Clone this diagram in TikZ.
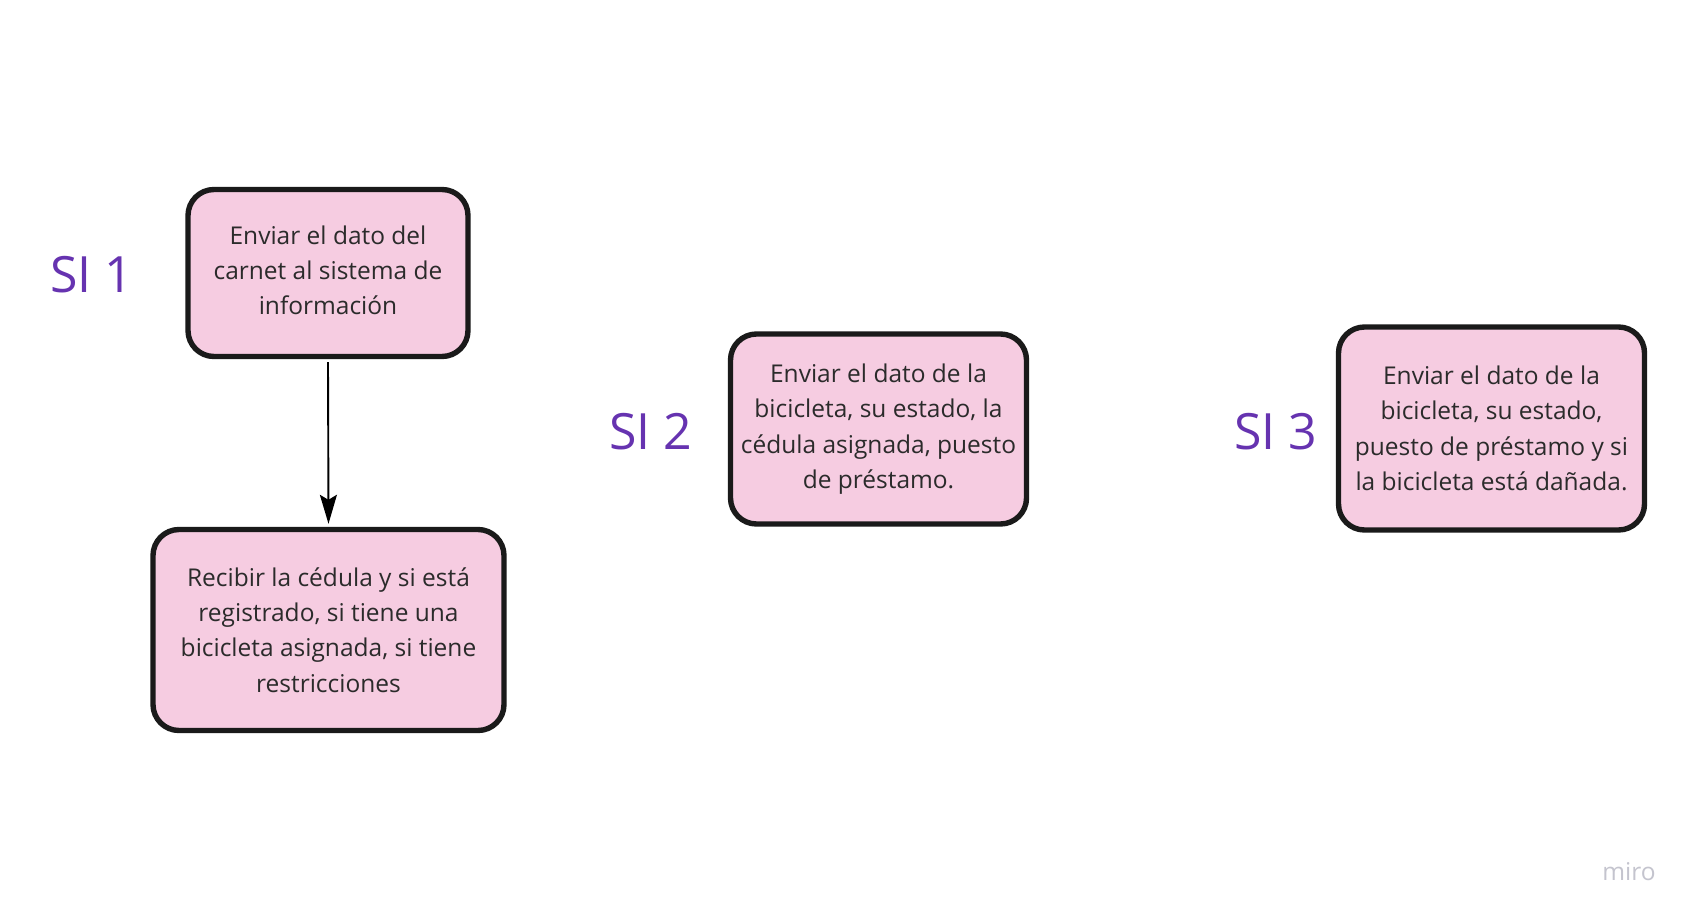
\documentclass[tikz,border=0pt]{standalone}
\usepackage{fontspec}
\setmainfont{Open Sans}
\usetikzlibrary{arrows.meta}
\definecolor{boxfill}{HTML}{F6CCE1}
\definecolor{boxline}{HTML}{1A1A1A}
\definecolor{sipurple}{HTML}{6633B0}
\definecolor{txtgray}{HTML}{2B2B2B}
\definecolor{mirogray}{HTML}{C4C4CE}
\tikzset{
  stepbox/.style={draw=boxline, fill=boxfill, line width=5.4pt, rounded corners=26pt,
    align=center, text=txtgray, inner sep=0pt,
    font=\fontsize{24.5}{35.3}\selectfont},
  silabel/.style={text=sipurple, font=\fontsize{50}{60}\selectfont, inner sep=0pt},
  conn/.style={line width=1.9pt, -{Stealth[length=29pt,width=17pt,inset=5pt]}}
}
\begin{document}
\begin{tikzpicture}[x=1pt,y=-1pt]
\useasboundingbox (0,0) rectangle (1696,921);
\fill[white] (0,0) rectangle (1696,921);
\node[stepbox, minimum width=280pt, minimum height=167pt] (b1) at (328,273)
  {Enviar el dato del\\carnet al sistema de\\información\vphantom{p}};
\node[stepbox, minimum width=351pt, minimum height=201pt] (b2) at (328.5,630)
  {Recibir la cédula y si está\\registrado, si tiene una\\bicicleta asignada, si tiene\\restricciones};
\node[stepbox, minimum width=296pt, minimum height=190pt] (b3) at (878.5,429)
  {Enviar el dato de la\\bicicleta, su estado, la\\cédula asignada, puesto\\de préstamo.};
\node[stepbox, minimum width=306pt, minimum height=203pt] (b4) at (1491.5,428.5)
  {Enviar el dato de la\\bicicleta, su estado,\\puesto de préstamo y si\\la bicicleta está dañada.};
\node[silabel] (s1) at (92,275) {SI 1};
\node[silabel] (s2) at (651,431.5) {SI 2};
\node[silabel] (s3) at (1276,431.5) {SI 3};
\node[text=mirogray, font=\fontsize{24.5}{28}\selectfont, inner sep=0pt] (miro) at (1629,872) {miro};
\draw[conn] ([yshift=-3pt]b1.south) -- ([yshift=3pt]b2.north);
\end{tikzpicture}
\end{document}
